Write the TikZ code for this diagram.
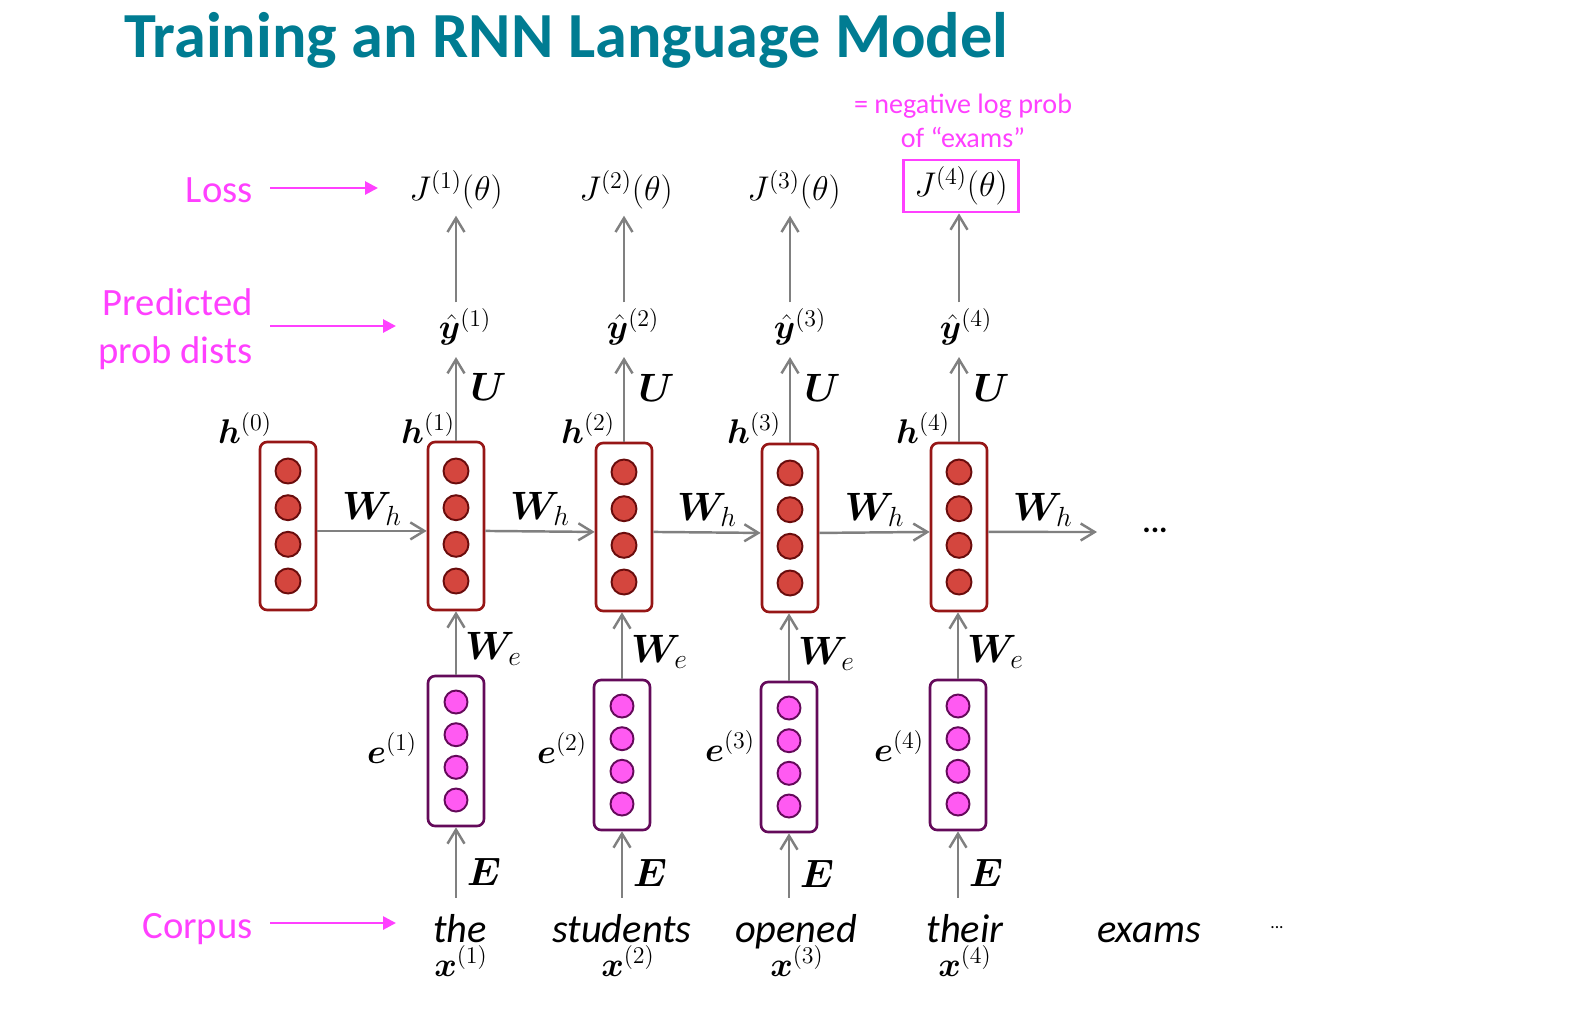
\RequirePackage{fix-cm}
\documentclass[tikz,border=0pt]{standalone}
\usepackage{amsmath}
\usepackage{bm}
\usepackage{fontspec}
\setmainfont{Carlito}
\usepackage{tikz}
\usetikzlibrary{arrows.meta, calc, positioning}

\begin{document}
\begin{tikzpicture}[x=0.02cm, y=-0.02cm,
  >={Straight Barb[length=0.28cm,width=0.34cm]},
  hbox/.style={draw=hb, line width=1.5pt, fill=white, rounded corners=4pt, minimum width=1.12cm, minimum height=3.36cm, inner sep=0pt},
  ebox/.style={draw=eb, line width=1.5pt, fill=white, rounded corners=4pt, minimum width=1.12cm, minimum height=3.0cm, inner sep=0pt},
  hdot/.style={draw=hd, fill=hf, line width=1.1pt},
  edot/.style={draw=eb, fill=ef, line width=1.1pt},
  arr/.style={->, draw=ar, line width=1.4pt},
  marr/.style={-{Triangle[length=0.26cm,width=0.26cm]}, draw=mg, line width=1.6pt, shorten <=0.34cm},
  mlbl/.style={font=\fontsize{22}{27}\selectfont, text=mg, inner sep=0pt, anchor=east},
  mth/.style={font=\fontsize{19.5}{23}\selectfont},
  mat/.style={font=\fontsize{22.5}{26}\selectfont, inner sep=0.25em},
  wrd/.style={font=\fontsize{23}{27}\selectfont\itshape, anchor=base},
]
\definecolor{ttl}{RGB}{0,124,146}
\definecolor{mg}{RGB}{255,64,255}
\definecolor{hb}{RGB}{150,22,22}
\definecolor{hf}{RGB}{212,70,62}
\definecolor{hd}{RGB}{105,12,12}
\definecolor{eb}{RGB}{100,10,90}
\definecolor{ef}{RGB}{255,90,242}
\definecolor{ar}{RGB}{128,128,128}
\useasboundingbox (0,0) rectangle (1574,1012);

\node[font=\fontsize{36.6}{40}\selectfont\bfseries, text=ttl, anchor=base west, inner sep=0pt] (title) at (124,57) {Training an RNN Language Model};

% hidden states
\node[hbox] (h0) at (288,526) {};
\node[hbox] (h1) at (456,526) {};
\node[hbox] (h2) at (624,527) {};
\node[hbox] (h3) at (790,528) {};
\node[hbox] (h4) at (959,527) {};
% embeddings
\node[ebox] (e1) at (456,751) {};
\node[ebox] (e2) at (622,755) {};
\node[ebox] (e3) at (789,757) {};
\node[ebox] (e4) at (958,755) {};
\foreach \n in {h0,h1,h2,h3,h4}
  \foreach \d in {-55,-18.3,18.3,55}
    \draw[hdot] ($(\n)+(0,\d)$) circle (0.25cm);
\foreach \n in {e1,e2,e3,e4}
  \foreach \d in {-49,-16.3,16.3,49}
    \draw[edot] ($(\n)+(0,\d)$) circle (0.23cm);

\node[mth] (lh0) at (245,428) {$\bm{h}^{(0)}$};
\node[mth] (lh1) at (428,428) {$\bm{h}^{(1)}$};
\node[mth] (lh2) at (588,428) {$\bm{h}^{(2)}$};
\node[mth] (lh3) at (754,428) {$\bm{h}^{(3)}$};
\node[mth] (lh4) at (923,428) {$\bm{h}^{(4)}$};
\node[mth] (le1) at (392,748) {$\bm{e}^{(1)}$};
\node[mth] (le2) at (562,748) {$\bm{e}^{(2)}$};
\node[mth] (le3) at (730,746) {$\bm{e}^{(3)}$};
\node[mth] (le4) at (899,746) {$\bm{e}^{(4)}$};

% outputs and losses
\node[mth] (yh1) at (465,327) {$\hat{\bm{y}}^{(1)}$};
\node[mth] (yh2) at (633,327) {$\hat{\bm{y}}^{(2)}$};
\node[mth] (yh3) at (800,327) {$\hat{\bm{y}}^{(3)}$};
\node[mth] (yh4) at (966,327) {$\hat{\bm{y}}^{(4)}$};
\node[mth] (J1) at (456,190) {$J^{(1)}(\theta)$};
\node[mth] (J2) at (626,190) {$J^{(2)}(\theta)$};
\node[mth] (J3) at (794,190) {$J^{(3)}(\theta)$};
\node[mth, draw=mg, line width=1.6pt, minimum width=2.3cm, minimum height=1.04cm] (J4) at (961,186) {$J^{(4)}(\theta)$};
\node[font=\fontsize{16}{19}\selectfont, text=mg, align=center] (note) at (963,121) {= negative log prob\\of “exams”};

% corpus
\node[wrd] (w1) at (460,942) {the};
\node[wrd] (w2) at (622,942) {students};
\node[wrd] (w3) at (796,942) {opened};
\node[wrd] (w4) at (965,942) {their};
\node[wrd] (w5) at (1149,942) {exams};
\node[font=\fontsize{10}{12}\selectfont, anchor=base] (wdots) at (1277,928) {...};
\node[mth, anchor=base] (x1) at (461,976) {$\bm{x}^{(1)}$};
\node[mth, anchor=base] (x2) at (628,976) {$\bm{x}^{(2)}$};
\node[mth, anchor=base] (x3) at (797,976) {$\bm{x}^{(3)}$};
\node[mth, anchor=base] (x4) at (965,976) {$\bm{x}^{(4)}$};

% recurrence
\coordinate (hend) at (1097,532);
\draw[arr] ([yshift=-2.8pt]h0.east) -- node[mat,above] (wh1) {$\bm{W}_h$} ([yshift=-2.8pt]h1.west);
\draw[arr] ([yshift=-2.8pt]h1.east) -- node[mat,above] (wh2) {$\bm{W}_h$} ([yshift=-2.8pt]h2.west);
\draw[arr] ([yshift=-2.8pt]h2.east) -- node[mat,above] (wh3) {$\bm{W}_h$} ([yshift=-2.8pt]h3.west);
\draw[arr] ([yshift=-2.8pt]h3.east) -- node[mat,above] (wh4) {$\bm{W}_h$} ([yshift=-2.8pt]h4.west);
\draw[arr] ([yshift=-2.8pt]h4.east) -- node[mat,above] (wh5) {$\bm{W}_h$} (hend);
\node[font=\fontsize{18}{20}\selectfont\bfseries] (hdots) at (1155,530) {...};

\foreach \i in {1,2,3,4} {
  \draw[arr, shorten >=3pt] (h\i.north) -- node[mat,right,pos=0.6,xshift=5pt] (u\i) {$\bm{U}$} (h\i.north |- yh\i.south);
  \draw[arr] (h\i.north |- yh\i.north) -- (h\i.north |- J\i.south);
  \draw[arr] (e\i.north) -- node[mat,right,pos=0.4,xshift=2pt] (we\i) {$\bm{W}_e$} (e\i.north |- h\i.south);
  \draw[arr, shorten <=0.2cm] (e\i.south |- w\i.north) -- node[mat,right,pos=0.45,xshift=3pt] (ee\i) {$\bm{E}$} (e\i.south);
}

% side labels
\node[mlbl] (loss) at (253,190) {Loss};
\node[mlbl, align=right] (pred) at (253,329) {Predicted\\prob dists};
\node[mlbl] (corpus) at (253,929) {Corpus};
\coordinate (losstip) at (378,188);
\coordinate (predtip) at (396,326);
\coordinate (corptip) at (396,923);
\draw[marr] (loss.east |- losstip) -- (losstip);
\draw[marr] (pred.east |- predtip) -- (predtip);
\draw[marr] (corpus.east |- corptip) -- (corptip);
\end{tikzpicture}
\end{document}
